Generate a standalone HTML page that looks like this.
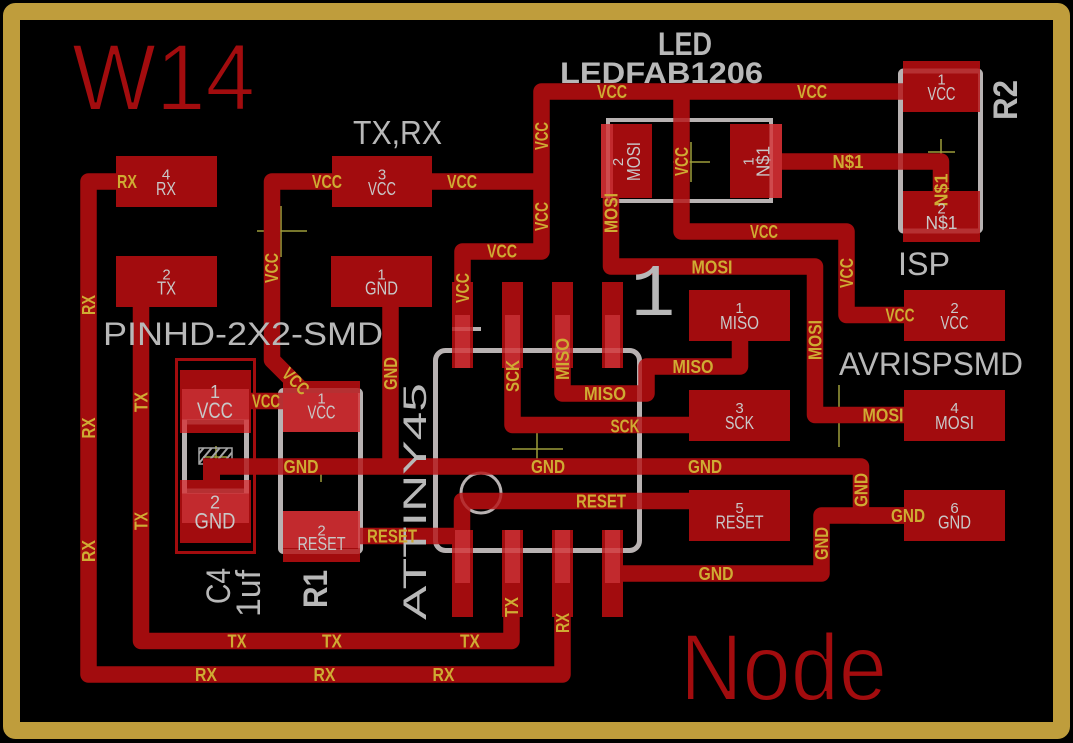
<!DOCTYPE html>
<html><head><meta charset="utf-8"><style>
html,body{margin:0;padding:0;background:#000;}
svg{display:block}
text{font-family:"Liberation Sans",sans-serif;}
.y{fill:#cfab33;font-weight:bold;font-size:18px;}
.g{fill:#c8c8c8;font-size:18px;}
.n{fill:#c8c8c8;font-size:15px;}
.b{fill:#b8b8b8;}
</style></head><body>
<svg xmlns="http://www.w3.org/2000/svg" width="1073" height="743" viewBox="0 0 1073 743">
<defs>
<g id="ol" fill="none">
<rect x="435.5" y="350.5" width="204" height="200" rx="10" stroke-width="5"/>
<circle cx="481" cy="493" r="20" stroke-width="3"/>
<rect x="608" y="120" width="163" height="81" stroke-width="4"/>
<rect x="900.5" y="71" width="80" height="160" rx="3" stroke-width="5"/>
<rect x="280.5" y="390.5" width="80" height="161" rx="3" stroke-width="5"/>
<rect x="184.5" y="422" width="62" height="69" stroke-width="5"/>
<path d="M452 329H481" stroke-width="4"/>
</g>
<clipPath id="hc"><rect x="199" y="448" width="33" height="16"/></clipPath>
</defs>
<rect width="1073" height="743" fill="#000"/>
<rect x="11.5" y="11.5" width="1050" height="719" rx="4" fill="none" stroke="#bf9d3c" stroke-width="17"/>

<g stroke="#9e9e3a" stroke-width="1.5" fill="none">
<path d="M257 231H307M281 206V257"/>
<path d="M673 162H710M691 142V182"/>
<path d="M928 152H955M941 139V165"/>
<path d="M512 449H563M537 423V474"/>
<path d="M809 416H869M839 385V447"/>
<path d="M313 471H332M321 461V482"/>
<path d="M203 457H227M216 446V467"/>
</g>

<use href="#ol" stroke="#a5a5a5"/>

<g clip-path="url(#hc)" stroke="#a5a5a5" stroke-width="2"><path d="M187 468L207 444M195 468L215 444M203 468L223 444M211 468L231 444M219 468L239 444M227 468L247 444"/></g>
<rect x="199" y="448" width="33" height="16" fill="none" stroke="#a5a5a5" stroke-width="1.5"/>

<rect x="176.5" y="359.5" width="78" height="193" fill="none" stroke="#a20c0e" stroke-width="3"/>

<g fill="none" stroke="#a20c0e" stroke-width="16.5" stroke-linejoin="round">
<path d="M462.5 282V251.5H541.5V91.5H903"/>
<path d="M432 181.5H541.5"/>
<path d="M332 181.5H272V360L302 390"/>
<path d="M251 401H283"/>
<path d="M681.5 91.5V231.5H846.5V315H904"/>
<path d="M203 466.5H861V515.5H904"/>
<path d="M904 515.5H821.5V573.5H612"/>
<path d="M390.5 307V466.5"/>
<path d="M611 198V266.5H815V415H904"/>
<path d="M562.5 368V393.5H646.5V366.5H740V341"/>
<path d="M512.5 368V425H689"/>
<path d="M360 536H462V501H689"/>
<path d="M141 307V641H511.5V617"/>
<path d="M116 181.5H88.5V674.5H562.5V617"/>
<path d="M782 161.5H941V191"/>
</g>
<rect x="203" y="466" width="17" height="14" fill="#a20c0e"/>

<g fill="#a20c0e">
<rect x="116" y="156" width="101" height="51"/>
<rect x="116" y="256" width="101" height="51"/>
<rect x="332" y="156" width="100" height="51"/>
<rect x="331" y="256" width="101" height="51"/>
<rect x="689" y="290" width="101" height="51"/>
<rect x="689" y="390" width="101" height="51"/>
<rect x="689" y="490" width="101" height="51"/>
<rect x="904" y="290" width="101" height="51"/>
<rect x="904" y="390" width="101" height="51"/>
<rect x="904" y="490" width="101" height="51"/>
<rect x="601" y="124" width="51" height="74"/>
<rect x="730" y="124" width="52" height="74"/>
<rect x="903" y="61" width="77" height="51"/>
<rect x="903" y="191" width="77" height="51"/>
<rect x="283" y="381" width="77" height="51"/>
<rect x="283" y="511" width="77" height="51"/>
<rect x="180" y="370" width="71" height="63"/>
<rect x="180" y="480" width="71" height="63"/>
<rect x="452" y="282" width="21" height="86"/>
<rect x="502" y="282" width="21" height="86"/>
<rect x="552" y="282" width="21" height="86"/>
<rect x="602" y="282" width="21" height="86"/>
<rect x="452" y="530" width="21" height="87"/>
<rect x="502" y="530" width="21" height="87"/>
<rect x="552" y="530" width="21" height="87"/>
<rect x="602" y="530" width="21" height="87"/>
</g>
<g fill="#c22a2e">
<rect x="601" y="124" width="12" height="74"/>
<rect x="770" y="124" width="12" height="74"/>
<rect x="283" y="393" width="77" height="39"/>
<rect x="283" y="511" width="77" height="37"/>
<rect x="182" y="389" width="67" height="44"/>
<rect x="182" y="480" width="67" height="43"/>
<rect x="455" y="315" width="15" height="53"/>
<rect x="505" y="315" width="15" height="53"/>
<rect x="555" y="315" width="15" height="53"/>
<rect x="605" y="315" width="15" height="53"/>
<rect x="455" y="530" width="15" height="53"/>
<rect x="505" y="530" width="15" height="53"/>
<rect x="555" y="530" width="15" height="53"/>
<rect x="605" y="530" width="15" height="53"/>
</g>
<g fill="#a20c0e"><rect x="187" y="420" width="57" height="13"/><rect x="187" y="480" width="57" height="13"/></g>

<use href="#ol" stroke="rgb(55,38,38)" style="mix-blend-mode:screen"/>

<text x="72" y="110" font-size="95" fill="#a20c0e" stroke="#000" stroke-width="2" textLength="183" lengthAdjust="spacingAndGlyphs">W14</text>
<text x="680" y="700" font-size="95" fill="#a20c0e" stroke="#000" stroke-width="2" textLength="207" lengthAdjust="spacingAndGlyphs">Node</text>

<g class="b">
<text x="353" y="144" font-size="33" textLength="89" lengthAdjust="spacingAndGlyphs">TX,RX</text>
<text x="103" y="345" font-size="32" textLength="280" lengthAdjust="spacingAndGlyphs">PINHD-2X2-SMD</text>
<text x="839" y="375" font-size="32" textLength="184" lengthAdjust="spacingAndGlyphs">AVRISPSMD</text>
<text x="898" y="275" font-size="32" textLength="52" lengthAdjust="spacingAndGlyphs">ISP</text>
<text x="658" y="55" font-size="32" font-weight="bold" textLength="54" lengthAdjust="spacingAndGlyphs">LED</text>
<text x="560" y="83" font-size="29.5" font-weight="bold" textLength="203" lengthAdjust="spacingAndGlyphs">LEDFAB1206</text>
<text transform="translate(1017,100) rotate(-90)" x="-20" y="0" font-size="34" font-weight="bold" textLength="40" lengthAdjust="spacingAndGlyphs">R2</text>
<text transform="translate(327,589) rotate(-90)" x="-19" y="0" font-size="34" font-weight="bold" textLength="38" lengthAdjust="spacingAndGlyphs">R1</text>
<text transform="translate(230,586) rotate(-90)" x="-18" y="0" font-size="34" textLength="36" lengthAdjust="spacingAndGlyphs">C4</text>
<text transform="translate(260,593.5) rotate(-90)" x="-23.5" y="0" font-size="34" textLength="47" lengthAdjust="spacingAndGlyphs">1uf</text>
<text transform="translate(426,501.5) rotate(-90)" x="-118.5" y="0" font-size="32" textLength="237" lengthAdjust="spacingAndGlyphs">ATTINY45</text>
<text x="653" y="315" font-size="74" text-anchor="middle" style="font-family:'Liberation Mono',monospace">1</text>
</g>

<g class="y">
<text x="117" y="188" textLength="20" lengthAdjust="spacingAndGlyphs">RX</text>
<text x="312" y="188" textLength="30" lengthAdjust="spacingAndGlyphs">VCC</text>
<text x="447" y="188" textLength="30" lengthAdjust="spacingAndGlyphs">VCC</text>
<text x="597" y="98" textLength="30" lengthAdjust="spacingAndGlyphs">VCC</text>
<text x="797" y="98" textLength="30" lengthAdjust="spacingAndGlyphs">VCC</text>
<text x="487" y="257.5" textLength="30" lengthAdjust="spacingAndGlyphs">VCC</text>
<text x="691.5" y="273.5" textLength="41" lengthAdjust="spacingAndGlyphs">MOSI</text>
<text x="832.5" y="168" textLength="31" lengthAdjust="spacingAndGlyphs">N$1</text>
<text x="750" y="238" textLength="28" lengthAdjust="spacingAndGlyphs">VCC</text>
<text x="885.5" y="321.5" textLength="29" lengthAdjust="spacingAndGlyphs">VCC</text>
<text x="862.5" y="421.5" textLength="41" lengthAdjust="spacingAndGlyphs">MOSI</text>
<text x="891" y="522" textLength="34" lengthAdjust="spacingAndGlyphs">GND</text>
<text x="698.5" y="580" textLength="35" lengthAdjust="spacingAndGlyphs">GND</text>
<text x="688" y="473" textLength="34" lengthAdjust="spacingAndGlyphs">GND</text>
<text x="531" y="473" textLength="34" lengthAdjust="spacingAndGlyphs">GND</text>
<text x="283.5" y="473" textLength="35" lengthAdjust="spacingAndGlyphs">GND</text>
<text x="252" y="407.5" textLength="28" lengthAdjust="spacingAndGlyphs">VCC</text>
<text x="584" y="400" textLength="42" lengthAdjust="spacingAndGlyphs">MISO</text>
<text x="672.5" y="373" textLength="41" lengthAdjust="spacingAndGlyphs">MISO</text>
<text x="610.5" y="432.5" textLength="29" lengthAdjust="spacingAndGlyphs">SCK</text>
<text x="576" y="507.5" textLength="50" lengthAdjust="spacingAndGlyphs">RESET</text>
<text x="367" y="542.5" textLength="50" lengthAdjust="spacingAndGlyphs">RESET</text>
<text x="227.5" y="647.5" textLength="19" lengthAdjust="spacingAndGlyphs">TX</text>
<text x="322" y="647.5" textLength="20" lengthAdjust="spacingAndGlyphs">TX</text>
<text x="460" y="647.5" textLength="20" lengthAdjust="spacingAndGlyphs">TX</text>
<text x="195" y="681" textLength="22" lengthAdjust="spacingAndGlyphs">RX</text>
<text x="313.5" y="681" textLength="22" lengthAdjust="spacingAndGlyphs">RX</text>
<text x="432.5" y="681" textLength="22" lengthAdjust="spacingAndGlyphs">RX</text>

<text transform="translate(541.5,136) rotate(-90)" x="-14" y="6.5" textLength="28" lengthAdjust="spacingAndGlyphs">VCC</text>
<text transform="translate(541.5,216.5) rotate(-90)" x="-14.5" y="6.5" textLength="29" lengthAdjust="spacingAndGlyphs">VCC</text>
<text transform="translate(681.5,161.5) rotate(-90)" x="-14.5" y="6.5" textLength="29" lengthAdjust="spacingAndGlyphs">VCC</text>
<text transform="translate(611,213) rotate(-90)" x="-20" y="6.5" textLength="40" lengthAdjust="spacingAndGlyphs">MOSI</text>
<text transform="translate(941,190) rotate(-90)" x="-16.5" y="6.5" textLength="33" lengthAdjust="spacingAndGlyphs">N$1</text>
<text transform="translate(846.5,273) rotate(-90)" x="-15" y="6.5" textLength="30" lengthAdjust="spacingAndGlyphs">VCC</text>
<text transform="translate(815,340) rotate(-90)" x="-20" y="6.5" textLength="40" lengthAdjust="spacingAndGlyphs">MOSI</text>
<text transform="translate(861,490) rotate(-90)" x="-17" y="6.5" textLength="34" lengthAdjust="spacingAndGlyphs">GND</text>
<text transform="translate(821.5,543.5) rotate(-90)" x="-16.5" y="6.5" textLength="33" lengthAdjust="spacingAndGlyphs">GND</text>
<text transform="translate(390.5,373.5) rotate(-90)" x="-16.5" y="6.5" textLength="33" lengthAdjust="spacingAndGlyphs">GND</text>
<text transform="translate(271.5,268) rotate(-90)" x="-15" y="6.5" textLength="30" lengthAdjust="spacingAndGlyphs">VCC</text>
<text transform="translate(462.5,288) rotate(-90)" x="-15" y="6.5" textLength="30" lengthAdjust="spacingAndGlyphs">VCC</text>
<text transform="translate(512.5,376) rotate(-90)" x="-16" y="6.5" textLength="32" lengthAdjust="spacingAndGlyphs">SCK</text>
<text transform="translate(562.5,359) rotate(-90)" x="-21" y="6.5" textLength="42" lengthAdjust="spacingAndGlyphs">MISO</text>
<text transform="translate(511.5,607) rotate(-90)" x="-10" y="6.5" textLength="20" lengthAdjust="spacingAndGlyphs">TX</text>
<text transform="translate(562.5,623) rotate(-90)" x="-10" y="6.5" textLength="20" lengthAdjust="spacingAndGlyphs">RX</text>
<text transform="translate(88.5,305) rotate(-90)" x="-10" y="6.5" textLength="20" lengthAdjust="spacingAndGlyphs">RX</text>
<text transform="translate(88.5,428) rotate(-90)" x="-10.5" y="6.5" textLength="21" lengthAdjust="spacingAndGlyphs">RX</text>
<text transform="translate(88.5,551) rotate(-90)" x="-11" y="6.5" textLength="22" lengthAdjust="spacingAndGlyphs">RX</text>
<text transform="translate(141,402) rotate(-90)" x="-10" y="6.5" textLength="20" lengthAdjust="spacingAndGlyphs">TX</text>
<text transform="translate(141,521) rotate(-90)" x="-9" y="6.5" textLength="18" lengthAdjust="spacingAndGlyphs">TX</text>
<text transform="translate(296,381) rotate(45)" x="-15" y="6.5" textLength="30" lengthAdjust="spacingAndGlyphs">VCC</text>
</g>

<g class="n" text-anchor="middle">
<text x="166" y="179.4">4</text>
<text x="166.5" y="279.4">2</text>
<text x="382" y="179.4">3</text>
<text x="381.5" y="279.4">1</text>
<text x="739.5" y="313">1</text>
<text x="739.5" y="413">3</text>
<text x="739.5" y="513">5</text>
<text x="954.5" y="313">2</text>
<text x="954.5" y="413">4</text>
<text x="954.5" y="513">6</text>
<text x="321.5" y="403.4">1</text>
<text x="321.5" y="535.4">2</text>
<text x="941.5" y="84.4">1</text>
<text x="941.5" y="213.4">2</text>
<text x="215" y="398" font-size="18">1</text>
<text x="215" y="508.5" font-size="18">2</text>
<text transform="translate(617.5,162) rotate(-90)" x="0" y="5.4">2</text>
<text transform="translate(748,161.5) rotate(-90)" x="0" y="5.4">1</text>
</g>
<g class="g">
<text x="156" y="195" textLength="20" lengthAdjust="spacingAndGlyphs">RX</text>
<text x="157" y="294.5" textLength="19" lengthAdjust="spacingAndGlyphs">TX</text>
<text x="368" y="195" textLength="28" lengthAdjust="spacingAndGlyphs">VCC</text>
<text x="365" y="294.5" textLength="33" lengthAdjust="spacingAndGlyphs">GND</text>
<text x="720" y="329" textLength="39" lengthAdjust="spacingAndGlyphs">MISO</text>
<text x="725" y="429" textLength="29" lengthAdjust="spacingAndGlyphs">SCK</text>
<text x="715.5" y="528.5" textLength="48" lengthAdjust="spacingAndGlyphs">RESET</text>
<text x="940.5" y="329" textLength="28" lengthAdjust="spacingAndGlyphs">VCC</text>
<text x="935" y="429" textLength="39" lengthAdjust="spacingAndGlyphs">MOSI</text>
<text x="938" y="528.5" textLength="33" lengthAdjust="spacingAndGlyphs">GND</text>
<text x="307.5" y="418.5" textLength="28" lengthAdjust="spacingAndGlyphs">VCC</text>
<text x="297.5" y="550" textLength="48" lengthAdjust="spacingAndGlyphs">RESET</text>
<text x="927.5" y="100" textLength="28" lengthAdjust="spacingAndGlyphs">VCC</text>
<text x="925.5" y="229" textLength="32" lengthAdjust="spacingAndGlyphs">N$1</text>
<text x="197" y="418" font-size="22" textLength="36" lengthAdjust="spacingAndGlyphs">VCC</text>
<text x="194.5" y="528.5" font-size="22" textLength="41" lengthAdjust="spacingAndGlyphs">GND</text>
<text transform="translate(633.5,161.5) rotate(-90)" x="-19.5" y="6.5" textLength="39" lengthAdjust="spacingAndGlyphs">MOSI</text>
<text transform="translate(763,161.5) rotate(-90)" x="-15.5" y="6.5" textLength="31" lengthAdjust="spacingAndGlyphs">N$1</text>
</g>
</svg>
</body></html>
